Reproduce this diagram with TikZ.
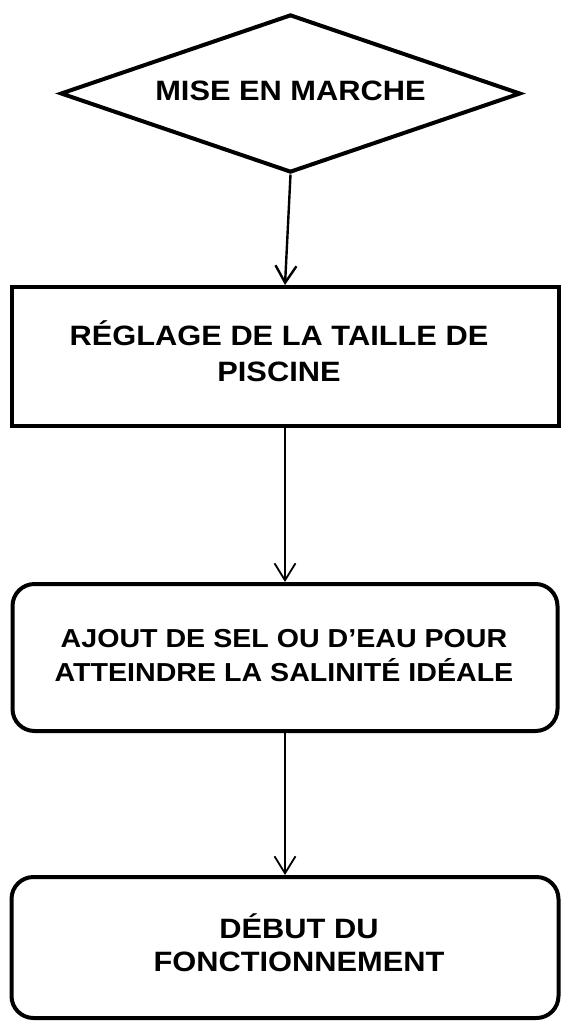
\documentclass[tikz,border=0pt]{standalone}
\usepackage{fontspec}
\setmainfont{Liberation Sans}
\usepackage{graphicx}
\usetikzlibrary{shapes.geometric,arrows.meta}
\newcommand{\flowtxt}[3]{\scalebox{1.1}[1]{\fontsize{#1}{#2}\selectfont\bfseries\renewcommand{\arraystretch}{1}\begin{tabular}{@{}c@{}}#3\end{tabular}}}
\begin{document}
\begin{tikzpicture}[x=1pt,y=-1pt,
  decision/.style={draw=black,line width=4pt,shape=diamond,aspect=2.9,minimum width=460pt,minimum height=158pt,inner sep=0pt},
  plainbox/.style={draw=black,line width=4pt,rectangle,inner sep=0pt},
  roundbox/.style={draw=black,line width=4pt,rectangle,rounded corners=22pt,inner sep=0pt},
  flow/.style={-{Straight Barb[length=17pt,width=21pt]},line width=1.8pt}
]
\useasboundingbox (0,0) rectangle (565,1023);
\fill[white] (0,0) rectangle (565,1023);
\node[decision] (d) at (290.5,93.5) {\raisebox{4pt}{\flowtxt{28}{34}{MISE EN MARCHE}}};
\node[plainbox,minimum width=547pt,minimum height=139pt] (r1) at (285,356.5)
  {\hbox{\kern-12pt\flowtxt{28}{36}{RÉGLAGE DE LA TAILLE DE\\ PISCINE}}};
\node[roundbox,minimum width=545pt,minimum height=147pt] (r2) at (285,657.5)
  {\hbox{\kern-2pt\flowtxt{26}{34}{AJOUT DE SEL OU D’EAU POUR\\ ATTEINDRE LA SALINITÉ IDÉALE}}};
\node[roundbox,minimum width=547pt,minimum height=141pt] (r3) at (285,947.5)
  {\hbox{\flowtxt{28}{33}{DÉBUT DU\\ FONCTIONNEMENT}\kern-28pt}};
\draw[flow,line width=2.4pt] (d.south) -- (r1.north);
\draw[flow] (r1.south) -- (r2.north);
\draw[flow] (r2.south) -- (r3.north);
\end{tikzpicture}
\end{document}
